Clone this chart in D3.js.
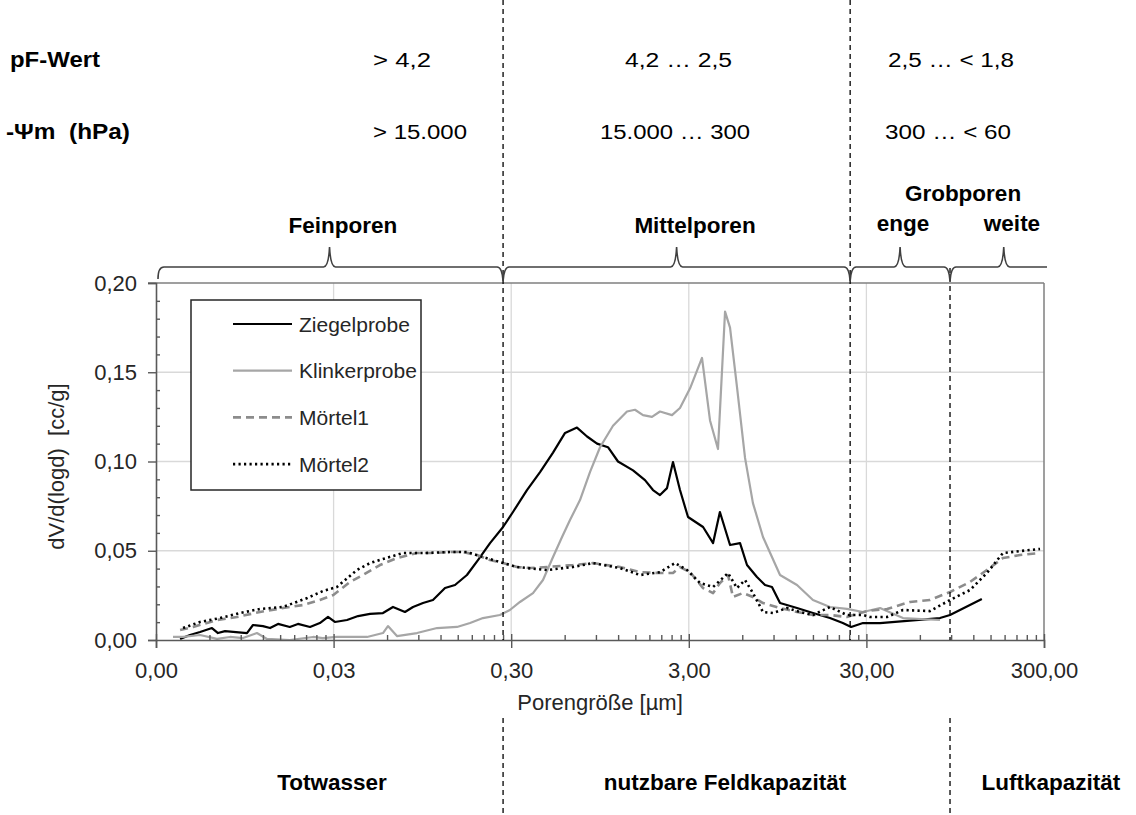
<!DOCTYPE html>
<html>
<head>
<meta charset="utf-8">
<script src="https://cdn.jsdelivr.net/npm/d3@7"></script>
<style>
  html, body { margin: 0; padding: 0; background: #fff; }
  svg { display: block; font-family: "Liberation Sans", Arial, sans-serif; }
</style>
</head>
<body>
<svg id="chart" width="1136" height="815"></svg>
<script>
// ---------------- data ----------------
const xTickValues = [0.003, 0.03, 0.3, 3, 30, 300];
const xTickLabels = ["0,00", "0,03", "0,30", "3,00", "30,00", "300,00"];
const yTickValues = [0, 0.05, 0.10, 0.15, 0.20];
const yTickLabels = ["0,00", "0,05", "0,10", "0,15", "0,20"];

const seriesNames = ["Ziegelprobe", "Klinkerprobe", "Mörtel1", "Mörtel2"];

// [pore size µm, dV/d(logd) cc/g]
const ziegel = [
  [0.0041,0.0006],[0.00466,0.0028],[0.00531,0.0045],[0.0062,0.0067],[0.0067,0.0039],[0.00734,0.005],
  [0.00976,0.0039],[0.01055,0.0084],[0.012,0.0078],[0.01316,0.0067],[0.0146,0.009],[0.017,0.0073],
  [0.0189,0.009],[0.0221,0.0073],[0.0251,0.0095],[0.0279,0.0129],[0.0305,0.0101],[0.0357,0.0112],
  [0.0412,0.0134],[0.0481,0.0146],[0.0569,0.0151],[0.0648,0.0185],[0.0757,0.0157],[0.084,0.0185],
  [0.0956,0.0207],[0.1088,0.0224],[0.1272,0.0291],[0.1448,0.0308],[0.169,0.0364],[0.195,0.0448],
  [0.228,0.0543],[0.27,0.0633],[0.307,0.0717],[0.368,0.084],[0.436,0.094],[0.516,0.105],
  [0.603,0.116],[0.704,0.119],[0.802,0.114],[0.913,0.11],[1.052,0.108],[1.198,0.1],
  [1.456,0.095],[1.7,0.0896],[1.886,0.084],[2.065,0.0812],[2.262,0.0851],[2.444,0.0997],
  [2.676,0.084],[2.97,0.0689],[3.61,0.0633],[4.11,0.0543],[4.49,0.0717],[5.12,0.0532],
  [5.83,0.0543],[6.38,0.042],[7.26,0.0353],[8.06,0.0308],[8.82,0.0297],[9.79,0.0207],
  [12.2,0.0179],[15.0,0.0151],[18.7,0.0123],[22.1,0.0095],[24.6,0.0073],[28.7,0.0095],
  [35.8,0.0095],[77.9,0.0123],[88.7,0.014],[134,0.023]
];
const klinker = [
  [0.00374,0.0017],[0.00426,0.0017],[0.00531,0.0028],[0.00662,0.0006],[0.00783,0.0017],[0.00927,0.0011],
  [0.0111,0.0039],[0.01265,0.0006],[0.017,0.0],[0.023,0.0017],[0.0261,0.0011],[0.0313,0.0017],
  [0.0371,0.0017],[0.0463,0.0017],[0.0569,0.0039],[0.0607,0.0078],[0.0682,0.0022],[0.0884,0.0039],
  [0.1147,0.0067],[0.1486,0.0073],[0.176,0.0095],[0.208,0.0123],[0.259,0.014],[0.295,0.0168],
  [0.336,0.0213],[0.398,0.0263],[0.453,0.0336],[0.516,0.0465],[0.58,0.0577],[0.643,0.0672],
  [0.732,0.0784],[0.833,0.094],[0.949,0.108],[1.123,0.12],[1.346,0.128],[1.493,0.129],
  [1.657,0.126],[1.861,0.125],[2.065,0.128],[2.413,0.126],[2.676,0.13],[3.05,0.141],
  [3.56,0.158],[3.95,0.123],[4.38,0.107],[4.8,0.184],[5.12,0.175],[5.6,0.142],
  [6.22,0.102],[6.89,0.0767],[7.85,0.0577],[9.79,0.0364],[12.2,0.0308],[15.0,0.0224],
  [18.7,0.0185],[23.3,0.0174],[28.7,0.0157],[35.8,0.0179],[48.2,0.0123],[77.9,0.0112]
];
const moertel1 = [
  [0.0041,0.0056],[0.00485,0.0073],[0.00662,0.0112],[0.00857,0.0129],[0.01155,0.0157],[0.01557,0.0179],
  [0.0202,0.0196],[0.0251,0.0224],[0.0299,0.0252],[0.0371,0.0325],[0.0439,0.0364],[0.0547,0.042],
  [0.0682,0.0459],[0.0884,0.0487],[0.1088,0.0487],[0.1357,0.0493],[0.1606,0.0493],[0.1925,0.0476],
  [0.228,0.0448],[0.27,0.0431],[0.323,0.0409],[0.383,0.0403],[0.477,0.0409],[0.668,0.042],
  [0.866,0.0431],[1.229,0.0409],[1.594,0.038],[2.065,0.0375],[2.444,0.0375],[2.676,0.0409],
  [3.05,0.038],[3.61,0.0291],[4.11,0.0263],[4.49,0.0319],[4.99,0.0364],[5.32,0.0241],
  [6.06,0.0263],[6.89,0.0241],[7.85,0.0207],[9.79,0.0179],[12.2,0.0157],[15.0,0.014],
  [18.7,0.014],[23.3,0.0129],[30.1,0.0162],[39.2,0.0174],[52.8,0.0213],[68.4,0.0224],
  [88.7,0.0269],[115,0.0325],[143,0.0392],[176,0.0459],[220,0.0476],[285,0.0487]
];
const moertel2 = [
  [0.00426,0.0067],[0.00531,0.0101],[0.00688,0.0123],[0.00892,0.0151],[0.01155,0.0174],[0.01557,0.0185],
  [0.0213,0.0235],[0.0261,0.0274],[0.0313,0.0297],[0.0406,0.0392],[0.0481,0.0431],[0.0569,0.0454],
  [0.0738,0.0487],[0.0956,0.0487],[0.1357,0.0493],[0.169,0.0493],[0.208,0.0465],[0.259,0.0437],
  [0.323,0.0409],[0.477,0.0392],[0.668,0.0409],[0.866,0.0431],[1.229,0.0403],[1.594,0.0364],
  [2.065,0.038],[2.509,0.0431],[2.93,0.0392],[3.47,0.0319],[4.11,0.0297],[4.99,0.0375],
  [5.6,0.0291],[6.22,0.0336],[6.89,0.0263],[7.85,0.0157],[8.94,0.0151],[10.7,0.0179],
  [12.7,0.0157],[15.0,0.014],[18.7,0.0185],[23.3,0.014],[28.7,0.014],[31.4,0.0129],
  [39.2,0.0129],[48.2,0.0168],[68.4,0.0162],[88.7,0.0224],[115,0.028],[143,0.0375],
  [176,0.0487],[220,0.0498],[285,0.051]
];

// class boundaries (µm) for dashed lines
const boundaries = [0.27, 24.3, 88.7];
const poreClasses = ["Feinporen", "Mittelporen", "enge", "weite"];
const pfValues = ["> 4,2", "4,2 … 2,5", "2,5 … < 1,8"];
const psiValues = ["> 15.000", "15.000 … 300", "300 … < 60"];
const waterClasses = ["Totwasser", "nutzbare Feldkapazität", "Luftkapazität"];

// ---------------- drawing ----------------
const svg = d3.select("#chart");
const L = 156, R = 1044, T = 283, B = 640;
const x = d3.scaleLog().domain([0.003, 300]).range([L, R]);
const y = d3.scaleLinear().domain([0, 0.2]).range([B, T]);
const FONT = '"Liberation Sans", Arial, sans-serif';

// gridlines
const grid = svg.append("g");
grid.selectAll("line.h").data(yTickValues.slice(1, 4)).enter().append("line")
  .attr("x1", L).attr("x2", R).attr("y1", d => y(d)).attr("y2", d => y(d))
  .attr("stroke", "#d9d9d9").attr("stroke-width", 1.3);
grid.selectAll("line.v").data(xTickValues.slice(1, 5)).enter().append("line")
  .attr("y1", T).attr("y2", B).attr("x1", d => x(d)).attr("x2", d => x(d))
  .attr("stroke", "#d9d9d9").attr("stroke-width", 1.3);

// frame (top & right)
svg.append("line").attr("x1", L - 8).attr("x2", R).attr("y1", T).attr("y2", T)
  .attr("stroke", "#7f7f7f").attr("stroke-width", 1.5);
svg.append("line").attr("x1", R).attr("x2", R).attr("y1", T).attr("y2", B)
  .attr("stroke", "#7f7f7f").attr("stroke-width", 1.5);

// series
const line = d3.line().x(d => x(d[0])).y(d => y(d[1]));
const styles = [
  {data: ziegel,   color: "#000000", width: 2.2, dash: null},
  {data: klinker,  color: "#a6a6a6", width: 2.2, dash: null},
  {data: moertel1, color: "#8c8c8c", width: 2.6, dash: "8,5"},
  {data: moertel2, color: "#000000", width: 2.6, dash: "2.2,3.3"}
];
styles.forEach(s => {
  svg.append("path").datum(s.data).attr("d", line)
    .attr("fill", "none").attr("stroke", s.color).attr("stroke-width", s.width)
    .attr("stroke-linejoin", "round")
    .attr("stroke-dasharray", s.dash);
});

// x axis
const xMinor = [];
xTickValues.slice(0, -1).forEach(d => { for (let k = 2; k <= 9; k++) xMinor.push(d * k); });
const xAxisMinor = svg.append("g").attr("transform", `translate(0,${B})`)
  .call(d3.axisBottom(x).tickValues(xMinor).tickSize(-5).tickFormat(""));
const xAxis = svg.append("g").attr("transform", `translate(0,${B})`)
  .call(d3.axisBottom(x).tickValues(xTickValues).tickSize(8).tickPadding(14)
    .tickFormat((d, i) => xTickLabels[i]));
xAxis.selectAll(".tick line").attr("y1", -6);
[xAxis, xAxisMinor].forEach(g => {
  g.select(".domain").attr("stroke", "#595959").attr("stroke-width", 1.6);
  g.selectAll(".tick line").attr("stroke", "#595959").attr("stroke-width", 1.4);
});
xAxisMinor.select(".domain").remove();
xAxis.selectAll("text").attr("font-family", FONT).attr("font-size", 22).attr("fill", "#262626");

// y axis
const yMinor = d3.range(1, 20).filter(i => i % 5 !== 0).map(i => i / 100);
const yAxisMinor = svg.append("g").attr("transform", `translate(${L},0)`)
  .call(d3.axisLeft(y).tickValues(yMinor).tickSize(-4).tickFormat(""));
const yAxis = svg.append("g").attr("transform", `translate(${L},0)`)
  .call(d3.axisLeft(y).tickValues(yTickValues).tickSize(8).tickPadding(11)
    .tickFormat((d, i) => yTickLabels[i]));
[yAxis, yAxisMinor].forEach(g => {
  g.select(".domain").attr("stroke", "#595959").attr("stroke-width", 1.6);
  g.selectAll(".tick line").attr("stroke", "#595959").attr("stroke-width", 1.4);
});
yAxisMinor.select(".domain").remove();
yAxis.selectAll("text").attr("font-family", FONT).attr("font-size", 22).attr("fill", "#262626");

// axis titles
svg.append("text").attr("x", (L + R) / 2).attr("y", 710).attr("text-anchor", "middle")
  .attr("font-family", FONT).attr("font-size", 22).attr("fill", "#262626")
  .text("Porengröße [µm]");
svg.append("text").attr("transform", `translate(64,${(T + B) / 2 + 5}) rotate(-90)`)
  .attr("text-anchor", "middle").style("white-space", "pre")
  .attr("font-family", FONT).attr("font-size", 22).attr("fill", "#262626")
  .text("dV/d(logd)  [cc/g]");

// legend
const lg = svg.append("g");
lg.append("rect").attr("x", 191).attr("y", 300).attr("width", 230).attr("height", 190)
  .attr("fill", "#fff").attr("stroke", "#262626").attr("stroke-width", 1.5);
styles.forEach((s, i) => {
  const yy = 324 + i * 46.7;
  lg.append("line").attr("x1", 233).attr("x2", 292).attr("y1", yy).attr("y2", yy)
    .attr("stroke", s.color).attr("stroke-width", s.width).attr("stroke-dasharray", s.dash);
  lg.append("text").attr("x", 299).attr("y", yy + 7.5)
    .attr("font-family", FONT).attr("font-size", 21).attr("fill", "#262626")
    .text(seriesNames[i]);
});

// dashed boundary lines
const bx = boundaries.map(b => x(b));
const dashSegs = [
  [bx[0], 0, B], [bx[0], 718, 815],
  [bx[1], 0, B],
  [bx[2], 268, B], [bx[2], 718, 815]
];
svg.selectAll("line.bd").data(dashSegs).enter().append("line")
  .attr("x1", d => d[0]).attr("x2", d => d[0]).attr("y1", d => d[1]).attr("y2", d => d[2])
  .attr("stroke", "#000").attr("stroke-width", 1.3).attr("stroke-dasharray", "5,4");

// braces
const BY = 267;
const tips = [
  Math.sqrt(0.003 * boundaries[0]),
  Math.sqrt(boundaries[0] * boundaries[1]),
  Math.sqrt(boundaries[1] * boundaries[2]),
  178
].map(v => x(v));
let p = `M158,279 Q158,${BY} 164,${BY}`;
const events = [];
tips.forEach(t => events.push({x: t, dir: -1}));
bx.forEach(b => events.push({x: b, dir: 1}));
events.sort((a, b) => a.x - b.x);
events.forEach(e => {
  const h = e.dir < 0 ? BY - 20 : BY + 14;
  p += ` L${e.x - 6},${BY} Q${e.x - 1},${BY} ${e.x},${h} Q${e.x + 1},${BY} ${e.x + 6},${BY}`;
});
p += ` L1047,${BY}`;
svg.append("path").attr("d", p).attr("fill", "none").attr("stroke", "#404040").attr("stroke-width", 1.6);

// brace labels
const boldText = (tx, ty, t, size, anchor) => svg.append("text").attr("x", tx).attr("y", ty)
  .attr("text-anchor", anchor || "middle").attr("font-family", FONT).attr("font-weight", "bold")
  .attr("font-size", size).attr("fill", "#000").text(t);
boldText(343, 233, poreClasses[0], 22.5);
boldText(695, 233, poreClasses[1], 22.5);
boldText(903, 231, poreClasses[2], 22.5);
boldText(1012, 231, poreClasses[3], 22.5);
boldText(963, 201, "Grobporen", 22.5);

// bottom labels
boldText(332, 790, waterClasses[0], 22.5);
boldText(725, 790, waterClasses[1], 22.5);
boldText(1051, 790, waterClasses[2], 22.5);

// top pF / potential rows
const stretched = (tx, ty, t, w, bold, size) => svg.append("text").attr("x", tx).attr("y", ty)
  .attr("font-family", FONT).attr("font-weight", bold ? "bold" : "normal").attr("font-size", size)
  .attr("textLength", w).attr("lengthAdjust", "spacingAndGlyphs").attr("fill", "#000")
  .style("white-space", "pre").text(t);
stretched(10, 67, "pF-Wert", 90, true, 22);
stretched(6, 139, "-Ψm  (hPa)", 124, true, 22);
stretched(373, 67, pfValues[0], 58, false, 20.5);
stretched(625, 67, pfValues[1], 107, false, 20.5);
stretched(888, 67, pfValues[2], 126, false, 20.5);
stretched(373, 139, psiValues[0], 94, false, 20.5);
stretched(600, 139, psiValues[1], 150, false, 20.5);
stretched(885, 139, psiValues[2], 126, false, 20.5);
</script>
</body>
</html>
